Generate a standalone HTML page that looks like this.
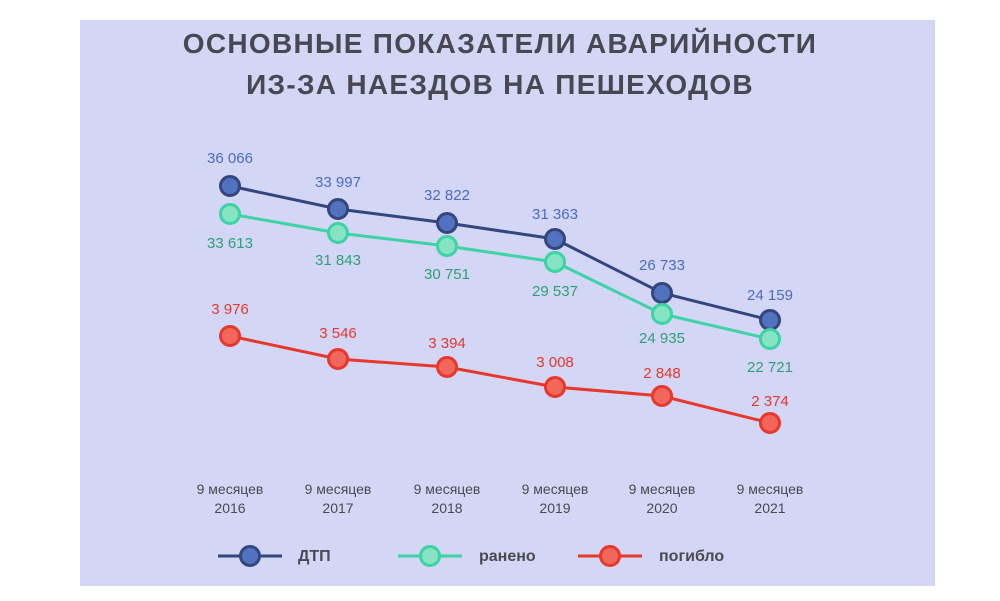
<!DOCTYPE html>
<html><head><meta charset="utf-8"><style>
html,body{margin:0;padding:0;background:#fff;}
svg{display:block;font-family:"Liberation Sans","DejaVu Sans",sans-serif;}
</style></head><body>
<svg width="1000" height="601" viewBox="0 0 1000 601">
<rect x="80" y="20" width="855" height="566" fill="#d3d6f4"/>
<g font-weight="bold" font-size="28" fill="#484852" text-anchor="middle" letter-spacing="1.3">
<text x="500" y="53">ОСНОВНЫЕ ПОКАЗАТЕЛИ АВАРИЙНОСТИ</text>
<text x="500" y="94">ИЗ-ЗА НАЕЗДОВ НА ПЕШЕХОДОВ</text>
</g>
<g fill="none" stroke-width="3">
<polyline stroke="#34467e" points="230,186 338,209 447,223 555,239 662,293 770,320"/>
<polyline stroke="#3dd3a5" points="230,214 338,233 447,246 555,262 662,314 770,339"/>
<polyline stroke="#e8372c" points="230,336 338,359 447,367 555,387 662,396 770,423"/>
</g>
<g stroke-width="3">
<g fill="#5272c0" stroke="#34467e">
<circle cx="230" cy="186" r="9.5"/><circle cx="338" cy="209" r="9.5"/><circle cx="447" cy="223" r="9.5"/><circle cx="555" cy="239" r="9.5"/><circle cx="662" cy="293" r="9.5"/><circle cx="770" cy="320" r="9.5"/>
</g>
<g fill="#86e3c4" stroke="#3dd3a5">
<circle cx="230" cy="214" r="9.5"/><circle cx="338" cy="233" r="9.5"/><circle cx="447" cy="246" r="9.5"/><circle cx="555" cy="262" r="9.5"/><circle cx="662" cy="314" r="9.5"/><circle cx="770" cy="339" r="9.5"/>
</g>
<g fill="#f2675b" stroke="#e8372c">
<circle cx="230" cy="336" r="9.5"/><circle cx="338" cy="359" r="9.5"/><circle cx="447" cy="367" r="9.5"/><circle cx="555" cy="387" r="9.5"/><circle cx="662" cy="396" r="9.5"/><circle cx="770" cy="423" r="9.5"/>
</g>
</g>
<g font-size="15" text-anchor="middle">
<g fill="#4c6cc0">
<text x="230" y="163">36 066</text><text x="338" y="187">33 997</text><text x="447" y="200">32 822</text><text x="555" y="219">31 363</text><text x="662" y="270">26 733</text><text x="770" y="300">24 159</text>
</g>
<g fill="#2f9f7a">
<text x="230" y="248">33 613</text><text x="338" y="265">31 843</text><text x="447" y="279">30 751</text><text x="555" y="296">29 537</text><text x="662" y="343">24 935</text><text x="770" y="372">22 721</text>
</g>
<g fill="#e8372c">
<text x="230" y="314">3 976</text><text x="338" y="338">3 546</text><text x="447" y="348">3 394</text><text x="555" y="367">3 008</text><text x="662" y="378">2 848</text><text x="770" y="406">2 374</text>
</g>
</g>
<g font-size="14" fill="#4a4a52" text-anchor="middle">
<text x="230" y="494">9 месяцев</text><text x="230" y="513">2016</text>
<text x="338" y="494">9 месяцев</text><text x="338" y="513">2017</text>
<text x="447" y="494">9 месяцев</text><text x="447" y="513">2018</text>
<text x="555" y="494">9 месяцев</text><text x="555" y="513">2019</text>
<text x="662" y="494">9 месяцев</text><text x="662" y="513">2020</text>
<text x="770" y="494">9 месяцев</text><text x="770" y="513">2021</text>
</g>
<g stroke-width="3">
<line x1="218" y1="556" x2="282" y2="556" stroke="#34467e"/>
<circle cx="250" cy="556" r="9.5" fill="#5272c0" stroke="#34467e"/>
<line x1="398" y1="556" x2="462" y2="556" stroke="#3dd3a5"/>
<circle cx="430" cy="556" r="9.5" fill="#86e3c4" stroke="#3dd3a5"/>
<line x1="578" y1="556" x2="642" y2="556" stroke="#e8372c"/>
<circle cx="610" cy="556" r="9.5" fill="#f2675b" stroke="#e8372c"/>
</g>
<g font-size="16" font-weight="bold" fill="#4a4a52">
<text x="298" y="561">ДТП</text><text x="479" y="561">ранено</text><text x="659" y="561">погибло</text>
</g>
</svg>
</body></html>
